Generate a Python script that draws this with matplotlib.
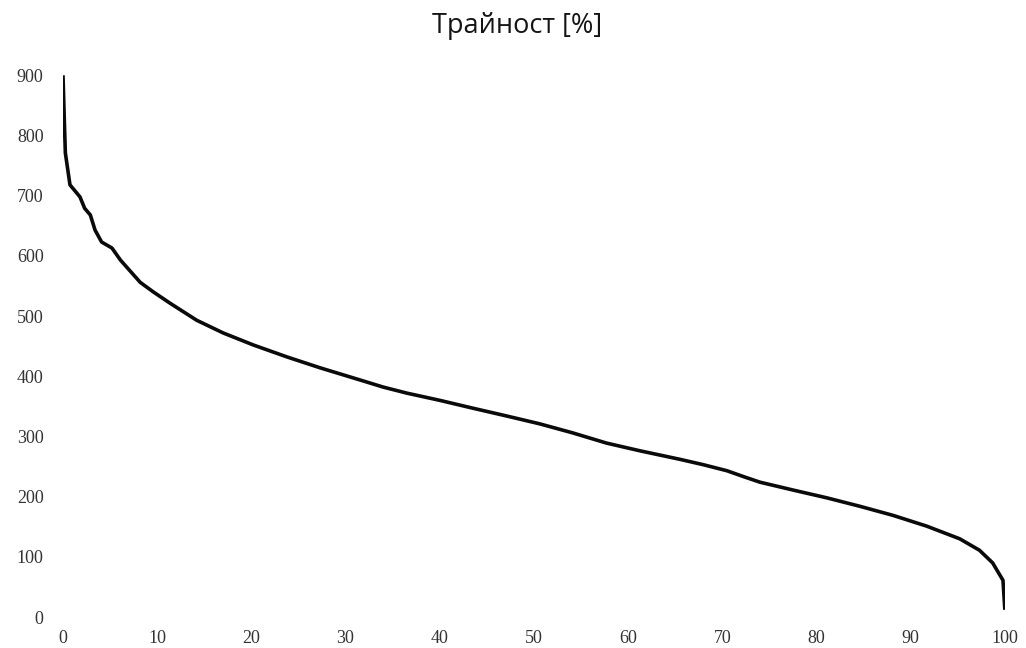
import numpy as np
import matplotlib.pyplot as plt

# percent of time exceeded vs value
pct = [0, 0.15, 0.25, 0.74, 1.8, 2.3, 2.9, 3.4, 4.1, 5.2, 6.1, 8.2, 9.6, 11.4,
       14.2, 17.0, 20.2, 23.8, 27.3, 31.5, 34.0, 36.5, 40.0, 43.5, 47.1, 50.6,
       54.1, 57.7, 61.3, 65.5, 68.0, 70.5, 72.3, 74.0, 77.5, 81.1, 84.6, 88.1,
       91.7, 95.2, 97.3, 98.7, 99.8, 100]
vals = [900, 820, 771, 718, 698, 679, 668, 643, 623, 613, 593, 556, 540, 521,
        493, 472, 452, 432, 414, 394, 382, 372, 360, 347, 334, 321,
        306, 289, 276, 262, 253, 243, 233, 224, 211, 198, 184, 169,
        151, 130, 111, 90, 61, 12]

xticks = np.arange(0, 101, 10)
yticks = np.arange(0, 901, 100)

fig = plt.figure(figsize=(10.26, 6.48), dpi=100)
ax = fig.add_axes([0.0614, 0.0478, 0.918, 0.836])

ax.plot(pct, vals, color='#0a0a0a', lw=2.6, solid_capstyle='butt',
        solid_joinstyle='round')

ax.set_xlim(0, 100)
ax.set_ylim(0, 900)
ax.set_xticks(xticks)
ax.set_yticks(yticks)
for s in ax.spines.values():
    s.set_visible(False)
ax.tick_params(axis='both', length=0, labelsize=13, labelcolor='#333333')
ax.tick_params(axis='y', pad=14)
ax.tick_params(axis='x', pad=9)
for lab in ax.get_xticklabels() + ax.get_yticklabels():
    lab.set_family(['Liberation Serif', 'DejaVu Serif'])

fig.text(0.504, 0.960, 'Трайност [%]', ha='center', va='center',
         fontsize=19.5, color='#151515', family=['Open Sans', 'DejaVu Sans'])

fig.savefig('out.png', dpi=100)
